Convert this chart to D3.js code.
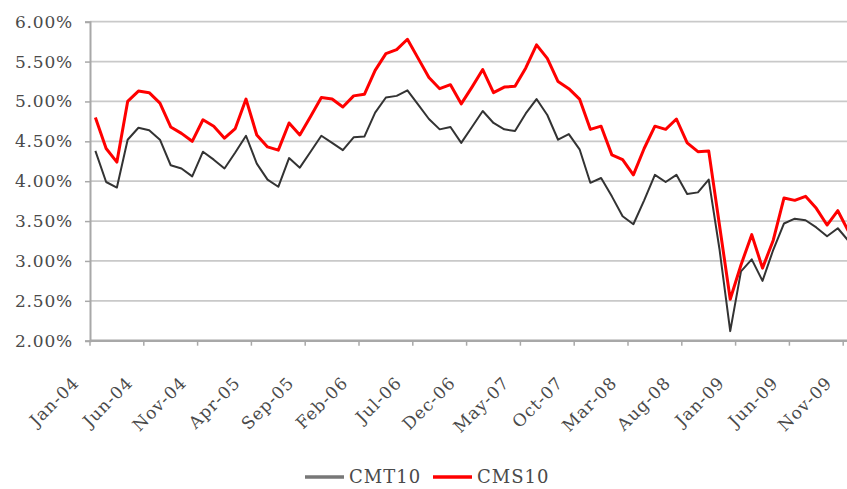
<!DOCTYPE html>
<html>
<head>
<meta charset="utf-8">
<script src="https://cdn.jsdelivr.net/npm/d3@7"></script>
<style>
  body { margin: 0; background: #fff; }
  svg { display: block; }
  text { font-family: "DejaVu Serif", serif; fill: #4a4a4a; }
</style>
</head>
<body>
<svg id="chart" width="847" height="489"></svg>
<script>
// monthly yields, Jan-04 .. Nov-09 (Dec-09 falls off the right edge)
var cmt10 = [4.38, 3.99, 3.92, 4.52, 4.67, 4.64, 4.52, 4.20, 4.16, 4.06, 4.37, 4.27,
  4.16, 4.36, 4.57, 4.22, 4.02, 3.93, 4.29, 4.17, 4.37, 4.57, 4.48, 4.39,
  4.55, 4.56, 4.86, 5.05, 5.07, 5.14, 4.96, 4.78, 4.65, 4.68, 4.48, 4.68,
  4.88, 4.73, 4.65, 4.63, 4.85, 5.03, 4.83, 4.52, 4.59, 4.40, 3.98, 4.04,
  3.81, 3.56, 3.46, 3.76, 4.08, 3.99, 4.08, 3.84, 3.86, 4.02, 3.15, 2.12,
  2.87, 3.02, 2.75, 3.14, 3.47, 3.53, 3.51, 3.42, 3.31, 3.41, 3.25];
var cms10 = [4.80, 4.41, 4.24, 5.00, 5.13, 5.11, 4.98, 4.68, 4.60, 4.50, 4.77, 4.69,
  4.54, 4.66, 5.03, 4.58, 4.43, 4.39, 4.73, 4.58, 4.81, 5.05, 5.03, 4.93,
  5.07, 5.09, 5.39, 5.60, 5.65, 5.78, 5.54, 5.30, 5.16, 5.21, 4.97, 5.18,
  5.40, 5.11, 5.18, 5.19, 5.42, 5.71, 5.54, 5.25, 5.16, 5.03, 4.65, 4.69,
  4.33, 4.27, 4.08, 4.41, 4.69, 4.65, 4.78, 4.48, 4.37, 4.38, 3.45, 2.52,
  2.95, 3.33, 2.91, 3.26, 3.79, 3.76, 3.81, 3.66, 3.45, 3.63, 3.37];
var tickLabels = ["Jan-04", "Jun-04", "Nov-04", "Apr-05", "Sep-05", "Feb-06", "Jul-06",
  "Dec-06", "May-07", "Oct-07", "Mar-08", "Aug-08", "Jan-09", "Jun-09", "Nov-09"];
var yTicks = [2, 2.5, 3, 3.5, 4, 4.5, 5, 5.5, 6];
var seriesNames = ["CMT10", "CMS10"];
var seriesColors = ["#333333", "#ff0000"];

var fmt = d3.timeFormat("%b-%y");
var months = d3.timeMonth.range(new Date(2004, 0, 1), new Date(2010, 0, 1)).map(fmt);

var svg = d3.select("#chart");
var plotLeft = 90, plotTop = 21.7, plotBottom = 340.7;
var plotRight = plotLeft + 72 * 10.76;
var x = d3.scaleBand().domain(months).range([plotLeft, plotRight]);
var y = d3.scaleLinear().domain([2, 6]).range([plotBottom, plotTop]);

// gridlines
svg.append("g")
  .selectAll("line")
  .data(yTicks.slice(1))
  .enter()
  .append("line")
  .attr("x1", plotLeft)
  .attr("x2", plotRight)
  .attr("y1", function(d) { return y(d); })
  .attr("y2", function(d) { return y(d); })
  .attr("stroke", "#c9c9c9")
  .attr("stroke-width", 1.8);

// y axis
var yAxis = svg.append("g")
  .attr("transform", "translate(" + plotLeft + ",0)")
  .call(d3.axisLeft(y).tickValues(yTicks).tickSize(5).tickPadding(12));
yAxis.select(".domain").attr("stroke", "#a8a8a8").attr("stroke-width", 2);
yAxis.selectAll(".tick line").attr("stroke", "#a8a8a8").attr("stroke-width", 1.5);
yAxis.selectAll(".tick text")
  .text(function(d) { return d3.format(".2f")(d) + "%"; })
  .attr("font-family", "DejaVu Serif")
  .attr("font-size", 17)
  .attr("letter-spacing", "0.8px")
  .attr("fill", "#4a4a4a");

// x axis
var xg = svg.append("g");
xg.append("line")
  .attr("x1", plotLeft).attr("x2", plotRight)
  .attr("y1", plotBottom).attr("y2", plotBottom)
  .attr("stroke", "#a8a8a8").attr("stroke-width", 2.5);
xg.selectAll(".xt")
  .data(tickLabels)
  .enter()
  .append("line")
  .attr("class", "xt")
  .attr("x1", function(d) { return x(d); })
  .attr("x2", function(d) { return x(d); })
  .attr("y1", plotBottom)
  .attr("y2", plotBottom + 5)
  .attr("stroke", "#a8a8a8")
  .attr("stroke-width", 1.5);
xg.selectAll(".xl")
  .data(tickLabels)
  .enter()
  .append("text")
  .attr("class", "xl")
  .attr("text-anchor", "end")
  .attr("font-size", 17)
  .attr("letter-spacing", "1px")
  .attr("transform", function(d) {
    return "translate(" + (x(d) - 10) + ",384) rotate(-45)";
  })
  .text(function(d) { return d; });

// lines
var line = d3.line()
  .x(function(d, i) { return x(months[i]) + x.bandwidth() / 2; })
  .y(function(d) { return y(d); });

[cmt10, cms10].forEach(function(s, k) {
  svg.append("path")
    .datum(s)
    .attr("fill", "none")
    .attr("stroke", seriesColors[k])
    .attr("stroke-width", k === 0 ? 2 : 3)
    .attr("stroke-linejoin", "round")
    .attr("d", line);
});

// legend
var legendX = [305, 433];
var legend = svg.append("g")
  .selectAll("g")
  .data(seriesNames)
  .enter()
  .append("g")
  .attr("transform", function(d, i) { return "translate(" + legendX[i] + ",477)"; });
legend.append("line")
  .attr("x1", 0).attr("x2", 39)
  .attr("stroke", function(d, i) { return i === 0 ? "#777" : seriesColors[i]; })
  .attr("stroke-width", 3.5);
legend.append("text")
  .attr("x", 44)
  .attr("dy", "0.35em")
  .attr("font-size", 18)
  .attr("letter-spacing", "1px")
  .text(function(d) { return d; });
</script>
</body>
</html>
